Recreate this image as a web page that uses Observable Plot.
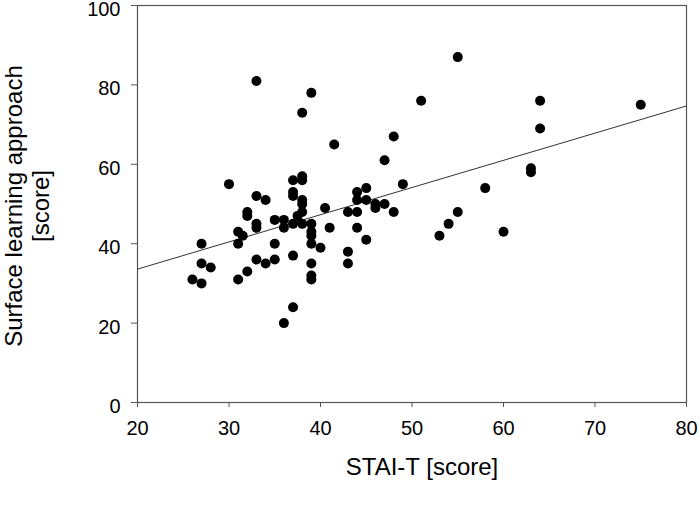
<!DOCTYPE html>
<html>
<head>
<meta charset="utf-8">
<script src="https://cdn.jsdelivr.net/npm/d3@7"></script>
<script src="https://cdn.jsdelivr.net/npm/@observablehq/plot@0.6"></script>
<style>
  html, body { margin: 0; padding: 0; background: white; }
  #chart { width: 700px; height: 512px; }
</style>
</head>
<body>
<div id="chart"></div>
<script>
// STAI-T score (x) and surface learning approach score (y) per participant
const stai = [
  26, 27, 27, 27, 28, 30, 31, 31.5, 31, 31,
  32, 32, 32, 33, 33, 33, 33, 33, 34, 34,
  35, 35, 35, 36, 36, 36, 37, 37, 37, 37,
  37, 37, 37.5, 38, 38, 38, 38, 38, 38, 38,
  39, 39, 39, 39, 39, 39, 39, 39, 40, 40.5,
  41, 41.5, 43, 43, 43, 44, 44, 44, 44, 45,
  45, 45, 46, 46, 47, 47, 48, 48, 49, 51,
  53, 54, 55, 55, 58, 60, 63, 63, 64, 64,
  75
];
const surface = [
  31, 40, 35, 30, 34, 55, 43, 42, 40, 31,
  48, 47, 33, 81, 52, 45, 44, 36, 51, 35,
  46, 40, 36, 46, 44, 20, 56, 53, 52, 45,
  37, 24, 47, 73, 57, 56, 51, 50, 48, 45,
  78, 45, 43, 42, 40, 35, 32, 31, 39, 49,
  44, 65, 48, 38, 35, 53, 51, 48, 44, 54,
  51, 41, 50, 49, 61, 50, 67, 48, 55, 76,
  42, 45, 87, 48, 54, 43, 59, 58, 76, 69,
  75
];
// fitted regression line, read at the ends of the x range
const fitX = [20, 80];
const fitY = [33.6, 74.7];
// axis ticks
const xTicks = [20, 30, 40, 50, 60, 70, 80];
const yTicks = [0, 20, 40, 60, 80, 100];
const xTitle = "STAI-T [score]";
const yTitle = "Surface learning approach\n[score]";

const points = stai.map((x, i) => ({x, y: surface[i]}));
const fit = fitX.map((x, i) => ({x, y: fitY[i]}));

const font = "'Liberation Sans', Arial, sans-serif";

const chart = Plot.plot({
  width: 700,
  height: 512,
  marginTop: 5,
  marginRight: 14,
  marginBottom: 110,
  marginLeft: 137,
  x: {domain: [20, 80]},
  y: {domain: [0, 100]},
  style: {fontFamily: font, fontSize: "20px", color: "black", background: "white", overflow: "visible"},
  marks: [
    Plot.frame({stroke: "#555", strokeWidth: 1.2}),
    Plot.axisX({ticks: xTicks, tickSize: 5, tickPadding: 13, label: null, stroke: "#555", fill: "black", fontSize: 20}),
    Plot.axisY({ticks: yTicks, tickSize: 6, text: null, label: null, stroke: "#555"}),
    Plot.axisY({ticks: yTicks, tickSize: 0, tickPadding: 17, dy: 4, label: null, fill: "black", fontSize: 20}),
    Plot.line(fit, {x: "x", y: "y", stroke: "#333", strokeWidth: 1}),
    Plot.dot(points, {x: "x", y: "y", r: 5, fill: "black", stroke: null}),
    Plot.text([xTitle], {text: d => d, frameAnchor: "bottom", textAnchor: "middle", dx: 10, dy: 65, fontSize: 24, fill: "black", lineAnchor: "middle"}),
    Plot.text([yTitle], {text: d => d, frameAnchor: "left", textAnchor: "middle", rotate: -90, dx: -111, dy: 2, fontSize: 24, lineHeight: 1.15, fill: "black", lineAnchor: "middle"})
  ]
});
document.getElementById("chart").appendChild(chart);
</script>
</body>
</html>
